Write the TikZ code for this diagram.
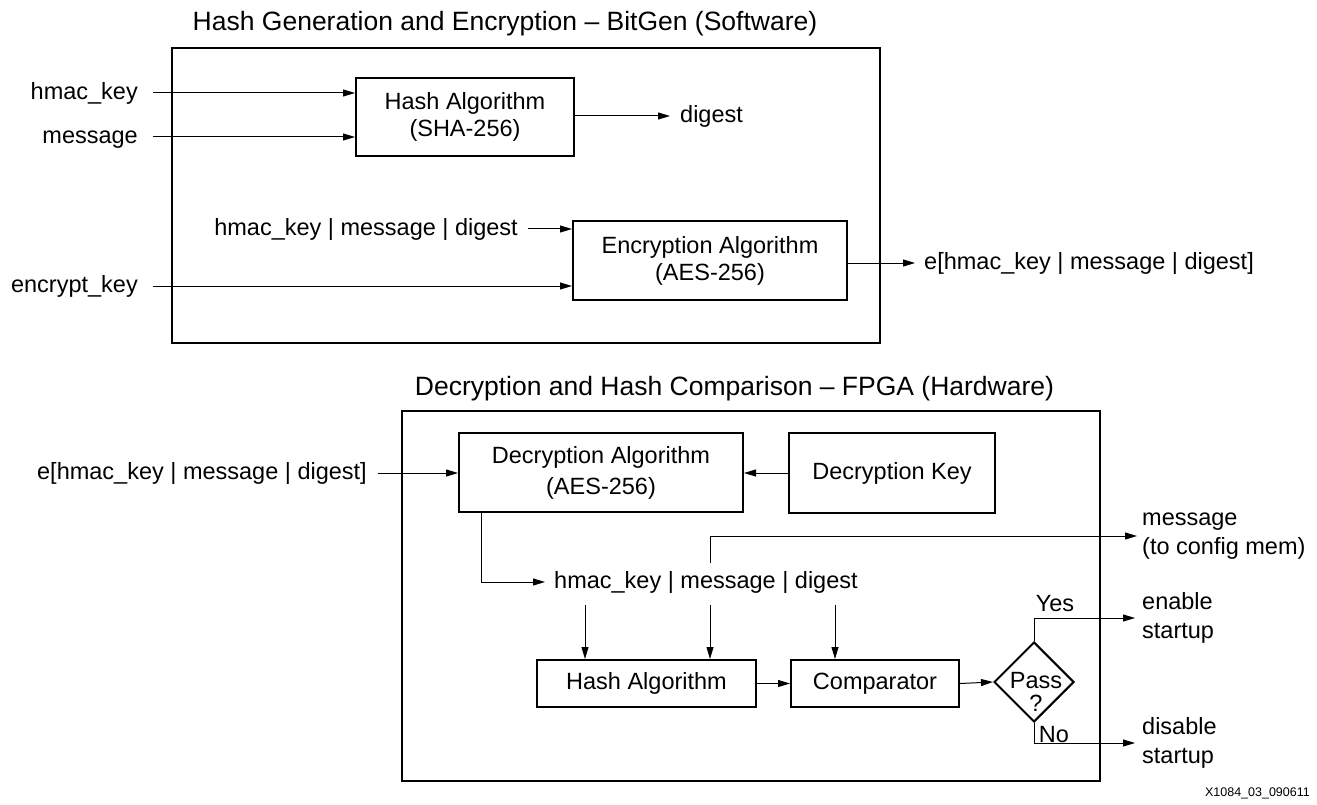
\documentclass[tikz,border=0pt]{standalone}
\usepackage{fontspec}
\setmainfont{Liberation Sans}
\usetikzlibrary{arrows.meta,shapes.geometric}
\begin{document}
\begin{tikzpicture}[x=1pt,y=-1pt,
  every node/.style={font=\fontsize{23.5}{27}\selectfont},
  frame/.style={draw, line width=2.5pt, inner sep=0pt},
  blk/.style={draw, line width=2pt, inner sep=0pt, align=center},
  lbl/.style={inner sep=0pt, text height=12.5pt, text depth=0pt},
  ttl/.style={lbl, font=\fontsize{26.5}{30}\selectfont},
  ml/.style={inner sep=0pt, align=left, font=\fontsize{23.5}{29.5}\selectfont},
  arr/.style={line width=1pt, -{Triangle[length=12pt,width=7pt]}}]
\useasboundingbox (0,0) rectangle (1317,805);

% ---------- top part ----------
\node[ttl] (t1) at (505,24) {Hash Generation and Encryption – BitGen (Software)};
\node[frame, minimum width=708pt, minimum height=295pt] (f1) at (526,195.5) {};

\node[blk, minimum width=218pt, minimum height=78pt] (h1) at (465,117) {Hash Algorithm\\(SHA-256)};
\node[lbl, anchor=east] (hk) at (138,93) {hmac\_key};
\node[lbl, anchor=east] (ms) at (138,137) {message};
\draw[arr] ([xshift=15pt]hk.east) -- (hk.east -| h1.west);
\draw[arr] ([xshift=15pt]ms.east) -- (ms.east -| h1.west);
\node[lbl, anchor=west] (dg) at (680,116) {digest};
\draw[arr] (dg.west -| h1.east) -- ([xshift=-10pt]dg.west);

\node[blk, minimum width=274pt, minimum height=79pt] (enc) at (710,260.5) {Encryption Algorithm\\(AES-256)};
\node[lbl, anchor=east] (hmd) at (518,229) {hmac\_key | message | digest};
\draw[arr] ([xshift=10pt]hmd.east) -- (hmd.east -| enc.west);
\node[lbl, anchor=east] (ek) at (138,286) {encrypt\_key};
\draw[arr] ([xshift=15pt]ek.east) -- (ek.east -| enc.west);
\node[lbl, anchor=west] (eo) at (924,263) {e[hmac\_key | message | digest]};
\draw[arr] (eo.west -| enc.east) -- ([xshift=-9pt]eo.west);

% ---------- bottom part ----------
\node[ttl] (t2) at (734.5,389) {Decryption and Hash Comparison – FPGA (Hardware)};
\node[frame, minimum width=698pt, minimum height=370pt] (f2) at (751,596) {};

\node[blk, minimum width=284pt, minimum height=79pt, font=\fontsize{23.5}{31}\selectfont] (dec) at (601,472.5) {Decryption Algorithm\\(AES-256)};
\node[blk, minimum width=206pt, minimum height=80pt] (key) at (892,473) {Decryption Key};
\draw[arr] (key.west) -- (key.west -| dec.east);
\node[lbl, anchor=east] (ein) at (367,473) {e[hmac\_key | message | digest]};
\draw[arr] ([xshift=11pt]ein.east) -- (ein.east -| dec.west);

\node[lbl, anchor=west] (hmd2) at (554,582) {hmac\_key | message | digest};
\draw[arr] ([xshift=23pt]dec.south west) |- ([xshift=-9pt]hmd2.west);

\node[blk, minimum width=219pt, minimum height=47pt] (h2) at (646.5,683.5) {Hash Algorithm};
\node[blk, minimum width=168pt, minimum height=47pt] (cmp) at (875,683.5) {Comparator};
\draw[arr] (h2.east) -- (cmp.west);

\coordinate (s1) at (585,605);
\coordinate (s2) at (710,605);
\coordinate (s3) at (835,605);
\draw[arr] (s1) -- (s1 |- h2.north);
\draw[arr] (s2) -- (s2 |- h2.north);
\draw[arr] (s3) -- (s3 |- cmp.north);

\node[ml, anchor=west] (mo) at (1142,536) {message\\(to config mem)};
\coordinate (m0) at (710,563);
\draw[arr] (m0) |- ([xshift=-5pt]mo.west);

\node[draw, diamond, aspect=1, line width=2pt, inner sep=0pt, minimum width=80pt, minimum height=80pt] (ps) at (1034,682) {};
\node[align=center, inner sep=0pt, font=\fontsize{23.5}{23}\selectfont] (pt) at (1036,692) {Pass\\?};
\draw[arr] (cmp.east) -- (ps.west);

\node[ml, anchor=west] (en) at (1142,618) {enable\\startup};
\node[ml, anchor=west] (dis) at (1142,743) {disable\\startup};
\draw[arr] (ps.north) |- ([xshift=-7pt]en.west);
\draw[arr] (ps.south) |- ([xshift=-7pt]dis.west);
\node[lbl] (yes) at (1055,605) {Yes};
\node[lbl] (no) at (1054,736) {No};

\node[inner sep=0pt, anchor=east, font=\fontsize{12.5}{14}\selectfont] (fn) at (1310,793) {X1084\_03\_090611};
\end{tikzpicture}
\end{document}
